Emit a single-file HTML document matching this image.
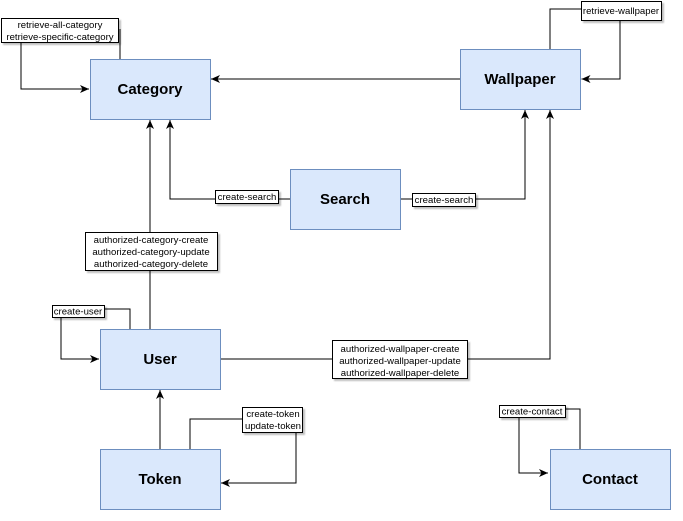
<!DOCTYPE html>
<html><head><meta charset="utf-8"><style>
html,body{margin:0;padding:0;background:#fff;}
svg{display:block;font-family:"Liberation Sans",Arial,sans-serif;}
.b{fill:#dae8fc;stroke:#6c8ebf;stroke-width:1;}
.t{font-weight:bold;font-size:15px;text-anchor:middle;fill:#000;}
.l{fill:#fff;stroke:#000;stroke-width:1;filter:url(#sh);}
.s{font-size:9.6px;fill:#000;text-anchor:middle;}
.c{fill:none;stroke:#000;stroke-width:1;}
</style></head><body>
<svg width="683" height="521" viewBox="0 0 683 521">
<defs>
<marker id="a" markerWidth="10" markerHeight="10" refX="9" refY="5" orient="auto" markerUnits="userSpaceOnUse"><path d="M0,1 L9,5 L0,9 L2.5,5 Z" fill="#000"/></marker>
<filter id="sh" x="-10%" y="-10%" width="130%" height="150%"><feDropShadow dx="2" dy="2" stdDeviation="0.8" flood-color="#000" flood-opacity="0.25"/></filter>
</defs>
<path class="c" d="M21,42 V89 H89" marker-end="url(#a)"/>
<path class="c" d="M120,29 V59"/>
<path class="c" d="M550,49 V9 H581"/>
<path class="c" d="M620,20 V79 H581.5" marker-end="url(#a)"/>
<path class="c" d="M460,79 H211" marker-end="url(#a)"/>
<path class="c" d="M150,329 V120" marker-end="url(#a)"/>
<path class="c" d="M290,199 H170 V120" marker-end="url(#a)"/>
<path class="c" d="M400,199 H525 V110" marker-end="url(#a)"/>
<path class="c" d="M220,359 H550 V110" marker-end="url(#a)"/>
<path class="c" d="M61,317 V359 H99" marker-end="url(#a)"/>
<path class="c" d="M104,309 H130 V329"/>
<path class="c" d="M160,449 V390" marker-end="url(#a)"/>
<path class="c" d="M190,449 V419 H243"/>
<path class="c" d="M296,432 V483 H221" marker-end="url(#a)"/>
<path class="c" d="M519,417 V473 H548" marker-end="url(#a)"/>
<path class="c" d="M565,409 H580 V449"/>
<rect class="b" x="90.5" y="59.5" width="120" height="60"/><text class="t" x="150" y="94">Category</text>
<rect class="b" x="460.5" y="49.5" width="120" height="60"/><text class="t" x="520" y="84">Wallpaper</text>
<rect class="b" x="290.5" y="169.5" width="110" height="60"/><text class="t" x="345" y="204">Search</text>
<rect class="b" x="100.5" y="329.5" width="120" height="60"/><text class="t" x="160" y="364">User</text>
<rect class="b" x="100.5" y="449.5" width="120" height="60"/><text class="t" x="160" y="484">Token</text>
<rect class="b" x="550.5" y="449.5" width="120" height="60"/><text class="t" x="610" y="484">Contact</text>
<rect class="l" x="1.5" y="18.5" width="117" height="24"/>
<text class="s" x="60" y="28">retrieve-all-category</text><text class="s" x="60" y="40">retrieve-specific-category</text>
<rect class="l" x="581.5" y="1.5" width="80" height="19"/><text class="s" x="621" y="14">retrieve-wallpaper</text>
<rect class="l" x="215.5" y="190.5" width="63" height="13"/><text class="s" x="247" y="200">create-search</text>
<rect class="l" x="412.5" y="193.5" width="63" height="13"/><text class="s" x="444" y="203">create-search</text>
<rect class="l" x="85.5" y="232.5" width="132" height="38"/>
<text class="s" x="151" y="243">authorized-category-create</text><text class="s" x="151" y="255">authorized-category-update</text><text class="s" x="151" y="267">authorized-category-delete</text>
<rect class="l" x="332.5" y="340.5" width="135" height="38"/>
<text class="s" x="400" y="352">authorized-wallpaper-create</text><text class="s" x="400" y="364">authorized-wallpaper-update</text><text class="s" x="400" y="376">authorized-wallpaper-delete</text>
<rect class="l" x="52.5" y="305.5" width="52" height="12"/><text class="s" x="78" y="314.5">create-user</text>
<rect class="l" x="242.5" y="407.5" width="60" height="25"/>
<text class="s" x="273" y="417">create-token</text><text class="s" x="273" y="429">update-token</text>
<rect class="l" x="499.5" y="405.5" width="66" height="12"/><text class="s" x="532" y="414.5">create-contact</text>
</svg>
</body></html>
